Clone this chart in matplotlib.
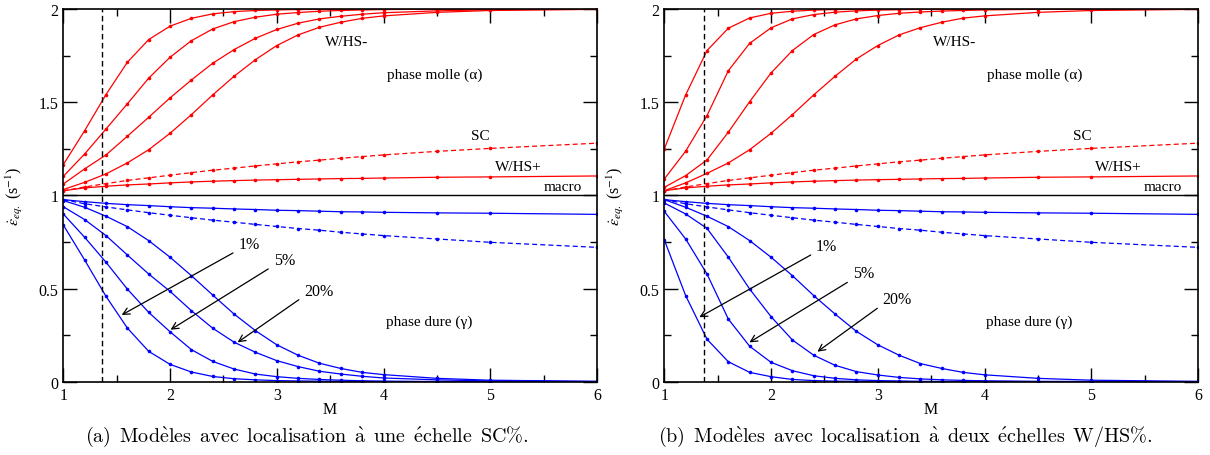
import matplotlib
matplotlib.use("Agg")
import matplotlib.pyplot as plt
from matplotlib.ticker import MultipleLocator, FuncFormatter

plt.rcParams['font.family'] = ['Liberation Serif', 'DejaVu Serif']
plt.rcParams['mathtext.fontset'] = 'stix'

# ---------------- data ----------------
M = [1.0, 1.2, 1.4, 1.6, 1.8, 2.0, 2.2, 2.4, 2.6, 2.8, 3.0, 3.2, 3.4, 3.6, 3.8, 4.0, 4.5, 5.0, 6.0]

# shared curves (both panels)
sc_red = [1.024, 1.045, 1.063, 1.080, 1.094, 1.108, 1.122, 1.135, 1.146, 1.158, 1.169, 1.180, 1.189, 1.199, 1.208, 1.217, 1.236, 1.252, 1.280]
sc_blue = [0.977, 0.955, 0.938, 0.922, 0.907, 0.893, 0.880, 0.867, 0.856, 0.844, 0.833, 0.822, 0.813, 0.802, 0.793, 0.784, 0.766, 0.748, 0.721]
whsp_red = [1.025, 1.040, 1.049, 1.056, 1.061, 1.067, 1.072, 1.076, 1.079, 1.082, 1.084, 1.086, 1.088, 1.090, 1.091, 1.093, 1.097, 1.099, 1.104]
whsp_blue = [0.977, 0.966, 0.957, 0.950, 0.945, 0.939, 0.934, 0.931, 0.927, 0.924, 0.920, 0.918, 0.915, 0.912, 0.911, 0.909, 0.906, 0.904, 0.898]

# panel (a): SC% localisation curves
a_red1 = [1.165, 1.347, 1.541, 1.714, 1.836, 1.908, 1.950, 1.974, 1.986, 1.992, 1.995, 1.997, 1.998, 1.999, 1.999, 2.0, 2.0, 2.0, 2.0]
a_red2 = [1.102, 1.222, 1.356, 1.491, 1.629, 1.741, 1.830, 1.893, 1.932, 1.956, 1.972, 1.981, 1.988, 1.992, 1.995, 1.997, 1.999, 2.0, 2.0]
a_red3 = [1.061, 1.142, 1.217, 1.317, 1.419, 1.523, 1.619, 1.709, 1.782, 1.843, 1.890, 1.924, 1.947, 1.961, 1.972, 1.980, 1.990, 1.996, 2.0]
a_red4 = [1.031, 1.070, 1.115, 1.174, 1.245, 1.333, 1.433, 1.539, 1.639, 1.728, 1.804, 1.861, 1.902, 1.929, 1.950, 1.963, 1.982, 1.992, 1.998]
a_blue1 = [0.841, 0.653, 0.458, 0.288, 0.163, 0.093, 0.052, 0.028, 0.016, 0.010, 0.006, 0.004, 0.003, 0.002, 0.001, 0.001, 0.0, 0.0, 0.0]
a_blue2 = [0.900, 0.775, 0.641, 0.497, 0.372, 0.268, 0.172, 0.109, 0.068, 0.041, 0.027, 0.018, 0.012, 0.008, 0.005, 0.003, 0.001, 0.0, 0.0]
a_blue3 = [0.939, 0.870, 0.784, 0.680, 0.578, 0.485, 0.381, 0.287, 0.212, 0.158, 0.113, 0.081, 0.056, 0.041, 0.029, 0.020, 0.010, 0.004, 0.001]
a_blue4 = [0.972, 0.936, 0.888, 0.832, 0.757, 0.668, 0.569, 0.465, 0.363, 0.274, 0.198, 0.142, 0.099, 0.071, 0.050, 0.038, 0.018, 0.008, 0.002]

# panel (b): W/HS% localisation curves
b_red1 = [1.249, 1.539, 1.777, 1.897, 1.952, 1.977, 1.988, 1.994, 1.997, 1.998, 1.999, 2.0, 2.0, 2.0, 2.0, 2.0, 2.0, 2.0, 2.0]
b_red2 = [1.088, 1.237, 1.428, 1.669, 1.816, 1.899, 1.947, 1.970, 1.983, 1.990, 1.994, 1.996, 1.998, 1.999, 2.0, 2.0, 2.0, 2.0, 2.0]
b_red3 = [1.043, 1.106, 1.190, 1.339, 1.503, 1.657, 1.777, 1.863, 1.915, 1.947, 1.965, 1.977, 1.984, 1.989, 1.992, 1.995, 1.998, 1.999, 2.0]
b_red4 = [1.025, 1.067, 1.118, 1.174, 1.245, 1.333, 1.433, 1.539, 1.639, 1.732, 1.804, 1.861, 1.900, 1.929, 1.951, 1.963, 1.982, 1.992, 1.998]
b_blue1 = [0.761, 0.462, 0.228, 0.107, 0.050, 0.027, 0.012, 0.006, 0.003, 0.002, 0.001, 0.0, 0.0, 0.0, 0.0, 0.0, 0.0, 0.0, 0.0]
b_blue2 = [0.914, 0.766, 0.578, 0.336, 0.190, 0.104, 0.059, 0.032, 0.018, 0.010, 0.006, 0.004, 0.002, 0.001, 0.001, 0.0, 0.0, 0.0, 0.0]
b_blue3 = [0.959, 0.900, 0.823, 0.668, 0.497, 0.349, 0.224, 0.142, 0.088, 0.054, 0.036, 0.023, 0.015, 0.010, 0.007, 0.005, 0.002, 0.001, 0.0]
b_blue4 = [0.977, 0.936, 0.888, 0.832, 0.757, 0.668, 0.569, 0.462, 0.363, 0.270, 0.198, 0.142, 0.097, 0.071, 0.050, 0.037, 0.018, 0.008, 0.002]

macro_level = 1.0
vline_M = [1.36, 1.37]

pct_labels = ['1%', '5%', '20%']
a_arrows = [((2.59, 0.691), (1.547, 0.358)), ((2.92, 0.605), (2.005, 0.279)), ((3.207, 0.440), (2.633, 0.211))]
b_arrows = [((2.372, 0.680), (1.328, 0.346)), ((2.715, 0.533), (1.797, 0.211)), ((2.996, 0.394), (2.434, 0.161))]

captions = ["(a) Modèles avec localisation à une échelle SC%.",
            "(b) Modèles avec localisation à deux échelles W/HS%."]


def to_cm_math(s):
    """Render a plain caption in Computer Modern via mathtext (accents kept)."""
    rep = {'è': r'\grave{e}', 'é': r'\acute{e}', 'à': r'\grave{a}',
           ' ': r'\ \,', '%': r'\%'}
    return r'$\mathrm{' + ''.join(rep.get(c, c) for c in s) + '}$'


panels = [
    dict(red=[a_red1, a_red2, a_red3, a_red4], blue=[a_blue1, a_blue2, a_blue3, a_blue4],
         arrows=a_arrows, vline=vline_M[0], rect=[63.3/1210, 1-382.7/456, (597-63.3)/1210, 372.7/456],
         whs_minus=(3.65, 1.825), molle=(4.48, 1.651), sc=(4.91, 1.319), whsp=(5.26, 1.157), macro=(5.68, 1.045), dure=(4.43, 0.325)),
    dict(red=[b_red1, b_red2, b_red3, b_red4], blue=[b_blue1, b_blue2, b_blue3, b_blue4],
         arrows=b_arrows, vline=vline_M[1], rect=[664.3/1210, 1-382.7/456, (1198-664.3)/1210, 372.7/456],
         whs_minus=(3.72, 1.825), molle=(4.47, 1.651), sc=(4.92, 1.319), whsp=(5.25, 1.157), macro=(5.67, 1.045), dure=(4.42, 0.325)),
]

fig = plt.figure(figsize=(12.1, 4.56), dpi=100)

lw = 0.9
ms = 2.6
for i, p in enumerate(panels):
    ax = fig.add_axes(p['rect'])
    for y in p['red']:
        ax.plot(M, y, color='red', lw=lw, marker='o', ms=ms, mew=0)
    for y in p['blue']:
        ax.plot(M, y, color='blue', lw=lw, marker='o', ms=ms, mew=0)
    ax.plot(M, sc_red, color='red', lw=lw, ls=(0, (4, 2.5)), marker='o', ms=ms, mew=0)
    ax.plot(M, sc_blue, color='blue', lw=lw, ls=(0, (4, 2.5)), marker='o', ms=ms, mew=0)
    ax.plot(M, whsp_red, color='red', lw=lw, marker='o', ms=ms, mew=0)
    ax.plot(M, whsp_blue, color='blue', lw=lw, marker='o', ms=ms, mew=0)
    ax.axhline(macro_level, color='black', lw=1.0)
    ax.axvline(p['vline'], color='black', lw=1.0, ls=(0, (4, 2.5)))

    for (tail, head), lab in zip(p['arrows'], pct_labels):
        ax.annotate('', xy=head, xytext=tail,
                    arrowprops=dict(arrowstyle='->', color='black', lw=0.9,
                                    shrinkA=0, shrinkB=0, mutation_scale=12))
        ax.text(tail[0] + 0.05, tail[1] + 0.005, lab, fontsize=11.5, ha='left', va='bottom')

    ax.text(*p['whs_minus'], 'W/HS-', fontsize=11, ha='center', va='center')
    ax.text(*p['molle'], 'phase molle (α)', fontsize=11, ha='center', va='center')
    ax.text(*p['sc'], 'SC', fontsize=11, ha='center', va='center')
    ax.text(*p['whsp'], 'W/HS+', fontsize=11, ha='center', va='center')
    ax.text(*p['macro'], 'macro', fontsize=11, ha='center', va='center')
    ax.text(*p['dure'], 'phase dure (γ)', fontsize=11, ha='center', va='center')

    ax.set_xlim(1, 6)
    ax.set_ylim(0, 2)
    ax.xaxis.set_major_locator(MultipleLocator(1))
    ax.xaxis.set_minor_locator(MultipleLocator(0.5))
    ax.yaxis.set_major_locator(MultipleLocator(0.5))
    ax.yaxis.set_minor_locator(MultipleLocator(0.25))
    ax.yaxis.set_major_formatter(FuncFormatter(lambda v, pos: ('%g' % v)))
    ax.xaxis.set_major_formatter(FuncFormatter(lambda v, pos: ('%g' % v)))
    ax.tick_params(which='both', direction='in', top=True, right=True, labelsize=11.5, width=1.0)
    ax.tick_params(which='major', length=10)
    ax.tick_params(which='minor', length=5)
    for s in ax.spines.values():
        s.set_linewidth(1.2)
    ax.set_xlabel('M', fontsize=11.5, labelpad=-1)
    ax.set_ylabel(r'$\dot{\varepsilon}_{eq.}$ (s$^{-1}$)', fontsize=11.5, labelpad=10)

    cx = [307/1210, 905/1210][i]
    fig.text(cx, 1-437/456, to_cm_math(captions[i]), fontsize=14.5, ha='center', va='center',
             math_fontfamily='cm')

fig.savefig('out.png', dpi=100)
